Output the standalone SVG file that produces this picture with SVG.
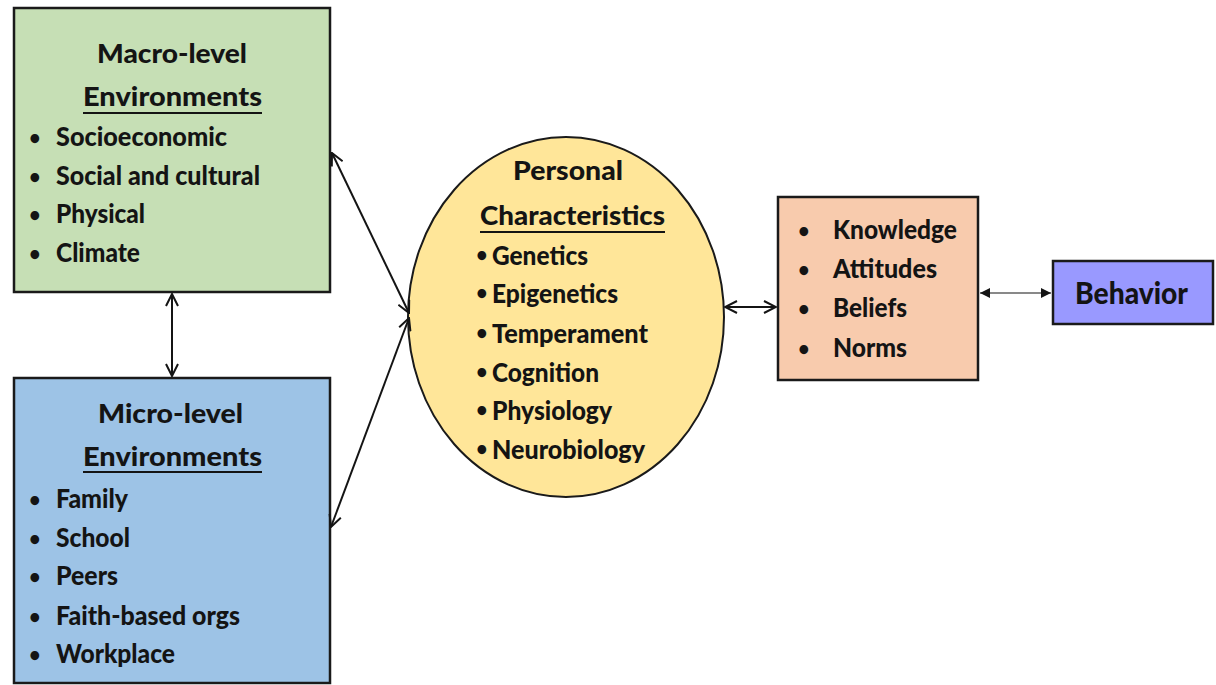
<svg xmlns="http://www.w3.org/2000/svg" width="1216" height="685" viewBox="0 0 1216 685">
<style>
.t{font-family:Lato,"Open Sans","Liberation Sans",sans-serif;font-weight:900;font-size:26px;fill:#141414}
.d{font-family:Lato,"Open Sans","Liberation Sans",sans-serif;font-weight:700;font-size:20px;fill:#141414}
.b{stroke:#1a1a1a;stroke-width:2.5}
.c{stroke:#141414;stroke-width:2;fill:none}
.u{stroke:#141414;stroke-width:1.8}
</style>
<defs>
<marker id="ah" viewBox="0 0 14 14" refX="13" refY="7" markerWidth="14" markerHeight="14" markerUnits="userSpaceOnUse" orient="auto-start-reverse">
<path d="M1,1 L13,7 L1,13" fill="none" stroke="#141414" stroke-width="2"/>
</marker>
<marker id="af" viewBox="0 0 10 10" refX="10" refY="5" markerWidth="10" markerHeight="10" markerUnits="userSpaceOnUse" orient="auto-start-reverse">
<path d="M0,0 L10,5 L0,10 Z" fill="#141414"/>
</marker>
</defs>
<rect width="1216" height="685" fill="#fff"/>
<g id="macro">
<rect x="14" y="8" width="316" height="284" fill="#c6dfb5" class="b"/>
<text class="t" x="97" y="63" textLength="150" lengthAdjust="spacingAndGlyphs">Macro-level</text>
<text class="t" x="83" y="106" textLength="179" lengthAdjust="spacingAndGlyphs">Environments</text>
<line x1="83" y1="113" x2="262" y2="113" class="u"/>
<text class="d" x="29" y="145">•</text><text class="t" x="56" y="146" textLength="171" lengthAdjust="spacingAndGlyphs">Socioeconomic</text>
<text class="d" x="29" y="184">•</text><text class="t" x="56" y="185" textLength="204" lengthAdjust="spacingAndGlyphs">Social and cultural</text>
<text class="d" x="29" y="222">•</text><text class="t" x="56" y="223" textLength="89" lengthAdjust="spacingAndGlyphs">Physical</text>
<text class="d" x="29" y="261">•</text><text class="t" x="56" y="262" textLength="84" lengthAdjust="spacingAndGlyphs">Climate</text>
</g>
<g id="micro">
<rect x="14" y="378" width="316" height="305" fill="#9dc3e6" class="b"/>
<text class="t" x="98" y="423" textLength="145" lengthAdjust="spacingAndGlyphs">Micro-level</text>
<text class="t" x="83" y="466" textLength="179" lengthAdjust="spacingAndGlyphs">Environments</text>
<line x1="83" y1="472" x2="262" y2="472" class="u"/>
<text class="d" x="29" y="507">•</text><text class="t" x="56" y="508" textLength="72" lengthAdjust="spacingAndGlyphs">Family</text>
<text class="d" x="29" y="546">•</text><text class="t" x="56" y="547" textLength="74" lengthAdjust="spacingAndGlyphs">School</text>
<text class="d" x="29" y="584">•</text><text class="t" x="56" y="585" textLength="62" lengthAdjust="spacingAndGlyphs">Peers</text>
<text class="d" x="29" y="624">•</text><text class="t" x="56" y="625" textLength="184" lengthAdjust="spacingAndGlyphs">Faith-based orgs</text>
<text class="d" x="29" y="662">•</text><text class="t" x="56" y="663" textLength="119" lengthAdjust="spacingAndGlyphs">Workplace</text>
</g>
<g id="personal">
<ellipse cx="566" cy="317" rx="158" ry="180" fill="#ffe699" stroke="#1a1a1a" stroke-width="2"/>
<text class="t" x="513" y="180" textLength="110" lengthAdjust="spacingAndGlyphs">Personal</text>
<text class="t" x="480" y="225" textLength="185" lengthAdjust="spacingAndGlyphs">Characteristics</text>
<line x1="480" y1="232" x2="665" y2="232" class="u"/>
<text class="d" x="476" y="262">•</text><text class="t" x="492" y="265" textLength="96" lengthAdjust="spacingAndGlyphs">Genetics</text>
<text class="d" x="476" y="300">•</text><text class="t" x="492" y="303" textLength="126" lengthAdjust="spacingAndGlyphs">Epigenetics</text>
<text class="d" x="476" y="340">•</text><text class="t" x="492" y="343" textLength="156" lengthAdjust="spacingAndGlyphs">Temperament</text>
<text class="d" x="476" y="379">•</text><text class="t" x="492" y="382" textLength="107" lengthAdjust="spacingAndGlyphs">Cognition</text>
<text class="d" x="476" y="417">•</text><text class="t" x="492" y="420" textLength="120" lengthAdjust="spacingAndGlyphs">Physiology</text>
<text class="d" x="476" y="456">•</text><text class="t" x="492" y="459" textLength="153" lengthAdjust="spacingAndGlyphs">Neurobiology</text>
</g>
<g id="kabn">
<rect x="778" y="197" width="200" height="183" fill="#f8cbad" class="b"/>
<text class="d" x="798" y="238">•</text><text class="t" x="833" y="239" textLength="124" lengthAdjust="spacingAndGlyphs">Knowledge</text>
<text class="d" x="798" y="277">•</text><text class="t" x="833" y="278" textLength="104" lengthAdjust="spacingAndGlyphs">Attitudes</text>
<text class="d" x="798" y="316">•</text><text class="t" x="833" y="317" textLength="74" lengthAdjust="spacingAndGlyphs">Beliefs</text>
<text class="d" x="798" y="356">•</text><text class="t" x="833" y="357" textLength="74" lengthAdjust="spacingAndGlyphs">Norms</text>
</g>
<g id="behavior">
<rect x="1053" y="261" width="160" height="63" fill="#9999ff" class="b"/>
<text class="t" x="1075" y="304" style="font-size:31px" textLength="113" lengthAdjust="spacingAndGlyphs">Behavior</text>
</g>
<g id="connectors">
<line x1="172" y1="294" x2="172" y2="376" class="c" marker-start="url(#ah)" marker-end="url(#ah)"/>
<line x1="332" y1="153" x2="409" y2="313" class="c" marker-start="url(#ah)" marker-end="url(#ah)"/>
<line x1="331" y1="527" x2="409" y2="318" class="c" marker-start="url(#ah)" marker-end="url(#ah)"/>
<line x1="725" y1="307" x2="776" y2="307" class="c" marker-start="url(#ah)" marker-end="url(#ah)"/>
<line x1="980" y1="293" x2="1051" y2="293" stroke="#141414" stroke-width="1.2" marker-start="url(#af)" marker-end="url(#af)"/>
</g>
</svg>
